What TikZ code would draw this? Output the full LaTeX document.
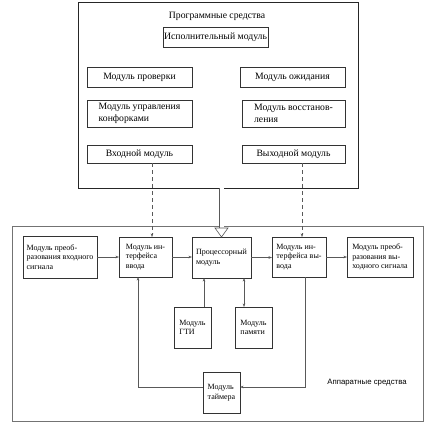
\documentclass[tikz,border=0pt]{standalone}
\usepackage{fontspec}
\setmainfont{Liberation Serif}
\newfontfamily\arialf{Liberation Sans}
\usetikzlibrary{arrows.meta,calc}
\begin{document}
\begin{tikzpicture}[x=1pt,y=-1pt,
  box/.style={draw=black!80, line width=0.7pt, inner sep=0pt, outer sep=0pt, align=left},
  swtext/.style={font=\fontsize{9.7}{12}\selectfont},
  hwtext/.style={font=\fontsize{8}{9.7}\selectfont},
  conn/.style={draw=black!65, line width=0.6pt},
  tip/.style={-{Stealth[length=3.5pt,width=2.6pt]}},
  dtip/.style={{Stealth[length=3.5pt,width=2.6pt]}-{Stealth[length=3.5pt,width=2.6pt]}}
]
\useasboundingbox (0,0) rectangle (433,433);
\fill[white] (0,0) rectangle (433,433);

% software part
\node[box, draw=black!85, line width=0.8pt, minimum width=280pt, minimum height=186pt] (sw) at (218,95) {};
\node[swtext] (swtitle) at (217,16) {Программные средства};
\node[box, swtext, minimum width=105pt, minimum height=20pt] (exec) at (215.5,37) {Исполнительный модуль};
\node[box, swtext, minimum width=105pt, minimum height=20pt] (check) at (139.5,77) {Модуль проверки};
\node[box, swtext, minimum width=105pt, minimum height=20pt] (wait) at (292.5,77) {Модуль ожидания};
\node[box, swtext, minimum width=105pt, minimum height=27pt] (burn) at (139.5,113.5) {Модуль управления\\конфорками};
\node[box, swtext, minimum width=103pt, minimum height=27pt] (rest) at (293.5,113.5) {Модуль восстанов-\\ления};
\node[box, swtext, minimum width=105pt, minimum height=18pt] (inmod) at (139.5,154) {Входной модуль};
\node[box, swtext, minimum width=103pt, minimum height=18pt] (outmod) at (293.5,154) {Выходной модуль};

% hardware part
\node[box, draw=black!55, line width=0.9pt, minimum width=411pt, minimum height=195pt] (hw) at (217.5,323.5) {};
\node[font=\arialf\fontsize{7.8}{9}\selectfont] (hwtitle) at (367,383) {Аппаратные средства};
\node[box, hwtext, minimum width=74pt, minimum height=42pt] (convin) at (60,257) {Модуль преоб-\\разования входного\\сигнала};
\node[box, hwtext, minimum width=53pt, minimum height=40pt] (ifin) at (145.5,257) {Модуль ин-\\терфейса\\ввода};
\node[box, hwtext, minimum width=59pt, minimum height=41pt] (cpu) at (221.5,257.5) {Процессорный\\модуль};
\node[box, hwtext, minimum width=54pt, minimum height=40pt] (ifout) at (299,257) {Модуль ин-\\терфейса вы-\\вода};
\node[box, hwtext, minimum width=66pt, minimum height=40pt] (convout) at (380,257) {Модуль преоб-\\разования вы-\\ходного сигнала};
\node[box, hwtext, minimum width=37pt, minimum height=41pt] (gti) at (192.5,327.5) {Модуль\\ГТИ};
\node[box, hwtext, minimum width=37pt, minimum height=41pt] (mem) at (253.5,327.5) {Модуль\\памяти};
\node[box, hwtext, minimum width=37pt, minimum height=41pt] (timer) at (221.5,392.5) {Модуль\\таймера};

% helper coordinates
\coordinate (xd1) at (152,0);
\coordinate (xd2) at (302,0);
\coordinate (xg) at (204,0);
\coordinate (xm) at (244,0);
\coordinate (xi) at (138,0);
\coordinate (xo) at (305,0);
\coordinate (yb) at (0,387);

% connectors
\draw[conn, dashed, dash pattern=on 4pt off 3pt, tip] (inmod.south -| xd1) -- (ifin.north -| xd1);
\draw[conn, dashed, dash pattern=on 4pt off 3pt, tip] (outmod.south -| xd2) -- (ifout.north -| xd2);
\draw[conn, double, double distance=4pt, shorten >=8.5pt] (sw.south -| cpu.north) -- (cpu.north);
\draw[conn, fill=white] ($(cpu.north)+(-6.5,-9)$) -- ($(cpu.north)+(6.5,-9)$) -- (cpu.north) -- cycle;

\draw[conn, tip] (convin.east) -- (convin.east -| ifin.west);
\draw[conn, tip] (ifin.east) -- (ifin.east -| cpu.west);
\draw[conn, tip] (cpu.east) -- (cpu.east -| ifout.west);
\draw[conn, tip] (ifout.east) -- (ifout.east -| convout.west);
\draw[conn, tip] (gti.north -| xg) -- (cpu.south -| xg);
\draw[conn, dtip] (cpu.south -| xm) -- (mem.north -| xm);
\draw[conn, tip] (timer.west |- yb) -| (ifin.south -| xi);
\draw[conn, tip] (ifout.south -| xo) |- (timer.east |- yb);
\end{tikzpicture}
\end{document}
